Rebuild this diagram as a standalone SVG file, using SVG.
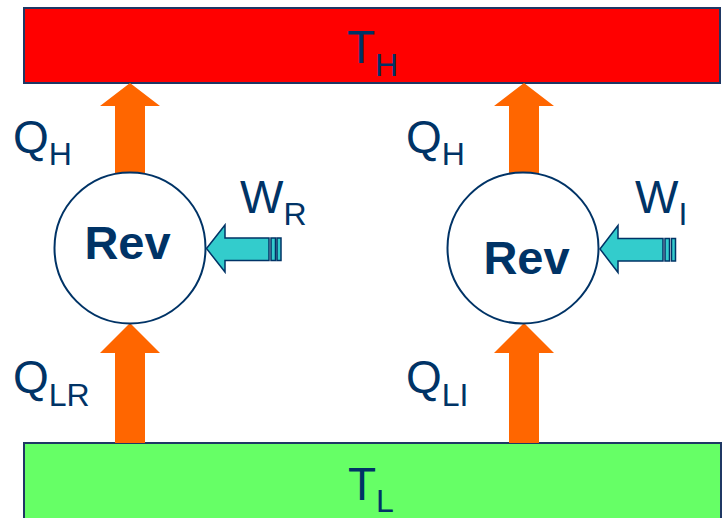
<svg xmlns="http://www.w3.org/2000/svg" width="722" height="518" viewBox="0 0 722 518">
<style>
.lbl{font-family:"Liberation Sans",Arial,sans-serif;font-size:46px;fill:#003366}
.sub{font-size:32px}
.rev{font-family:"Liberation Sans",Arial,sans-serif;font-size:47px;font-weight:bold;fill:#003366;text-anchor:middle}
.res{stroke:#1F3864;stroke-width:2}
.eng{fill:#FFFFFF;stroke:#003366;stroke-width:2}
.heat{fill:#FF6600}
.work{fill:#33CCCC;stroke:#003366;stroke-width:1.5}
</style>
<g id="hot-reservoir">
<rect class="res" x="24" y="8" width="696" height="75" fill="#FF0000"/>
<text class="lbl" x="347" y="63">T<tspan class="sub" dy="13">H</tspan></text>
</g>
<g id="cold-reservoir">
<rect class="res" x="24" y="443" width="697" height="82" fill="#66FF66"/>
<text class="lbl" x="348" y="500">T<tspan class="sub" dy="12">L</tspan></text>
</g>
<g id="connectors">
<polygon class="heat" points="115,174 115,106 100,106 130,83 160,106 145,106 145,174"/>
<polygon class="heat" points="509,174 509,106 494,106 524,83 554,106 539,106 539,174"/>
<polygon class="heat" points="115,443 115,353 100,353 130,323 160,353 145,353 145,443"/>
<polygon class="heat" points="509,443 509,353 494,353 524,323 554,353 539,353 539,443"/>
<g id="work-R">
<polygon class="work" points="206.5,248.5 225,225 225,238 269,238 269,260.5 225,260.5 225,272"/>
<rect class="work" x="271" y="238" width="4.5" height="22.5"/>
<rect class="work" x="277" y="238" width="4" height="22.5"/>
</g>
<g id="work-I">
<polygon class="work" points="600,249 618,225.5 618,238.5 663,238.5 663,261 618,261 618,272.5"/>
<rect class="work" x="665" y="238.5" width="4.5" height="22.5"/>
<rect class="work" x="671.5" y="238.5" width="4" height="22.5"/>
</g>
</g>
<g id="engine-reversible">
<circle class="eng" cx="130" cy="248" r="75.5"/>
<text class="rev" x="127.5" y="259">Rev</text>
</g>
<g id="engine-irreversible">
<circle class="eng" cx="523" cy="248" r="75.5"/>
<text class="rev" x="526.5" y="274">Rev</text>
</g>
<g id="labels">
<text class="lbl" x="13" y="153">Q<tspan class="sub" dy="12">H</tspan></text>
<text class="lbl" x="406" y="153">Q<tspan class="sub" dy="12">H</tspan></text>
<text class="lbl" x="240" y="213">W<tspan class="sub" dy="12">R</tspan></text>
<text class="lbl" x="635" y="213">W<tspan class="sub" dy="12">I</tspan></text>
<text class="lbl" x="13" y="393">Q<tspan class="sub" dy="13">LR</tspan></text>
<text class="lbl" x="406" y="393">Q<tspan class="sub" dy="13">LI</tspan></text>
</g>
</svg>
